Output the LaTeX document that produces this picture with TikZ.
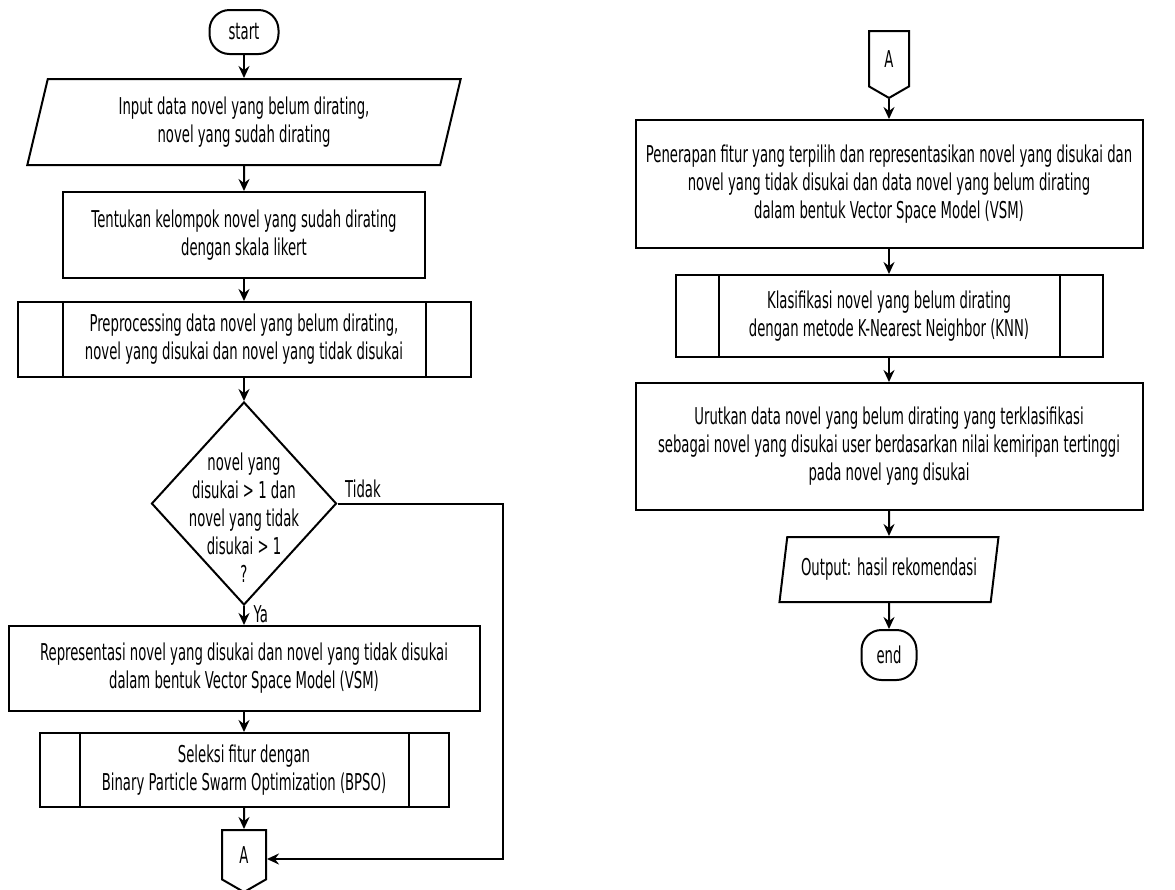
\documentclass[tikz,border=0pt]{standalone}
\usepackage{fontspec}
\setmainfont{DejaVu Sans}[FakeStretch=0.57]
\usetikzlibrary{arrows.meta,shapes.geometric,shapes.symbols}

\begin{document}
\begin{tikzpicture}[x=0.5pt,y=-0.5pt,
      font=\fontsize{11.6}{14}\selectfont,
      fcbase/.style={draw,line width=1pt,align=center,inner sep=2pt},
      box/.style={fcbase,rectangle},
      term/.style={fcbase,rounded corners=10pt},
      io/.style={fcbase,trapezium,trapezium left angle=77,
        trapezium right angle=103,trapezium stretches=true},
      subproc/.style={box,path picture={
          \draw [line width=1pt]
            ([xshift=#1]path picture bounding box.south west)
            -- ([xshift=#1]path picture bounding box.north west);
          \draw [line width=1pt]
            ([xshift=-#1]path picture bounding box.south east)
            -- ([xshift=-#1]path picture bounding box.north east);
        }},
      cond/.style={fcbase,diamond,inner sep=0pt},
      offpage/.style={fcbase,signal,signal to=south,
        signal pointer angle=120,inner sep=0pt,anchor=north},
      arr/.style={-{Stealth[length=6pt,width=5.5pt,inset=2pt]},line width=1pt},
      ]
        \useasboundingbox (0,0) rectangle (1175,890);

        \node [term,minimum width=34.5pt,minimum height=22pt] (mulai) at (244,32) {start};
        \node [io,minimum width=217pt,minimum height=43pt] (input) at (244,122)
          {Input data novel yang belum dirating,\\novel yang sudah dirating};
        \node [box,minimum width=181pt,minimum height=43pt] (kelompok) at (244,235)
          {Tentukan kelompok novel yang sudah dirating\\dengan skala likert};
        \node [subproc=22.5pt,minimum width=226.5pt,minimum height=37.5pt] (prepro) at (244,339.5)
          {Preprocessing data novel yang belum dirating,\\novel yang disukai dan novel yang tidak disukai};
        \node [cond,minimum width=92.5pt,minimum height=101.5pt] (cek) at (244,503.5) {};
        \node [align=center] (cektext) at (244,518)
          {novel yang\\disukai > 1 dan\\novel yang tidak\\disukai > 1\\?};
        \node [box,minimum width=235.5pt,minimum height=42.5pt] (repr) at (244,668.5)
          {Representasi novel yang disukai dan novel yang tidak disukai\\dalam bentuk Vector Space Model (VSM)};
        \node [subproc=20pt,minimum width=204.5pt,minimum height=37pt] (seleksi) at (244,770)
          {Seleksi fitur dengan\\Binary Particle Swarm Optimization (BPSO)};
        \node [offpage,minimum width=22pt,minimum height=26pt] (akeluar) at (244,829) {A};

        \node [offpage,minimum width=20pt,minimum height=29pt] (amasuk) at (889,30) {A};
        \node [box,minimum width=253.5pt,minimum height=64pt] (terapkan) at (889,184)
          {Penerapan fitur yang terpilih dan representasikan novel yang disukai dan\\
           novel yang tidak disukai dan data novel yang belum dirating\\
           dalam bentuk Vector Space Model (VSM)};
        \node [subproc=21.5pt,minimum width=213.5pt,minimum height=41pt] (knn) at (889,316)
          {Klasifikasi novel yang belum dirating\\dengan metode K-Nearest Neighbor (KNN)};
        \node [box,minimum width=253.5pt,minimum height=63.5pt] (urut) at (889,446.5)
          {Urutkan data novel yang belum dirating yang terklasifikasi\\
           sebagai novel yang disukai user berdasarkan nilai kemiripan tertinggi\\
           pada novel yang disukai};
        \node [io,minimum width=109.5pt,minimum height=32.5pt] (output) at (889,569.5)
          {Output: hasil rekomendasi};
        \node [term,minimum width=27.5pt,minimum height=25pt] (selesai) at (889,655) {end};

        \draw [arr] (mulai) -- (input);
        \draw [arr] (input) -- (kelompok);
        \draw [arr] (kelompok) -- (prepro);
        \draw [arr] (prepro) -- (cek);
        \draw [arr] (cek.south) -- node [pos=0.45,right=1pt] (ya) {Ya} (repr.north);
        \draw [arr] (repr) -- (seleksi);
        \draw [arr] (seleksi) -- (akeluar);
        \coordinate (balik) at (503,859);
        \draw [arr] (cek.east) node [anchor=south west,xshift=0pt,yshift=-1pt] (tidak) {Tidak}
          -| (balik) -- (balik -| akeluar.east);

        \draw [arr] (amasuk.south) -- (terapkan);
        \draw [arr] (terapkan) -- (knn);
        \draw [arr] (knn) -- (urut);
        \draw [arr] (urut) -- (output);
        \draw [arr] (output) -- (selesai);
      \end{tikzpicture}
\end{document}
